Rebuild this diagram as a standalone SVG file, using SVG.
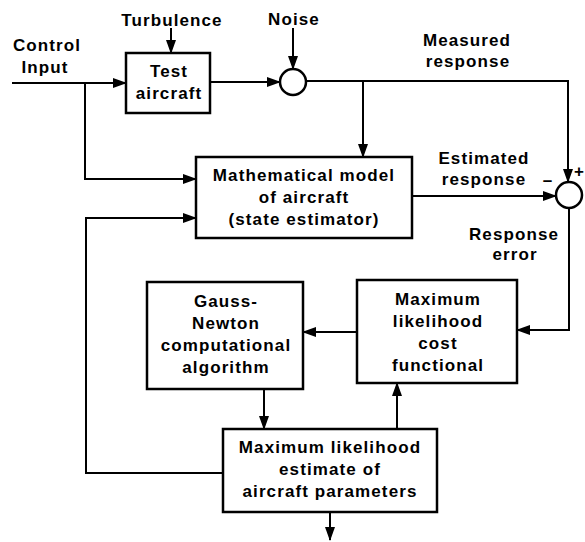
<svg xmlns="http://www.w3.org/2000/svg" width="585" height="542" viewBox="0 0 585 542">
<style>
.box{fill:#fff;stroke:#000;stroke-width:2.5}
.sum{fill:#fff;stroke:#000;stroke-width:2.5}
.ln{fill:none;stroke:#000;stroke-width:2}
text{font-family:"Liberation Sans",Arial,sans-serif;font-weight:bold;font-size:17px;letter-spacing:1.1px;text-anchor:middle;fill:#000}
</style>
<defs>
<marker id="ah" markerUnits="userSpaceOnUse" markerWidth="14" markerHeight="10" refX="13" refY="5" orient="auto">
<path d="M0,0 L14,5 L0,10 z" fill="#000"/>
</marker>
</defs>
<rect width="585" height="542" fill="#fff"/>
<g id="connectors">
<path class="ln" d="M12 83 H126" marker-end="url(#ah)"/>
<path class="ln" d="M85 83 V179 H196" marker-end="url(#ah)"/>
<path class="ln" d="M171 28 V53" marker-end="url(#ah)"/>
<path class="ln" d="M293 28 V69" marker-end="url(#ah)"/>
<path class="ln" d="M210 82 H280" marker-end="url(#ah)"/>
<path class="ln" d="M306 81 H568 V182" marker-end="url(#ah)"/>
<path class="ln" d="M363 81 V157" marker-end="url(#ah)"/>
<path class="ln" d="M412 196 H556" marker-end="url(#ah)"/>
<path class="ln" d="M569 208 V330 H517" marker-end="url(#ah)"/>
<path class="ln" d="M357 332 H303" marker-end="url(#ah)"/>
<path class="ln" d="M264 389 V429" marker-end="url(#ah)"/>
<path class="ln" d="M397 429 V383" marker-end="url(#ah)"/>
<path class="ln" d="M223 473 H86 V218 H196" marker-end="url(#ah)"/>
<path class="ln" d="M330 512 V540" marker-end="url(#ah)"/>
</g>
<g id="labels">
<text x="47" y="51">Control</text>
<text x="45" y="73">Input</text>
<text x="172" y="26">Turbulence</text>
<text x="294" y="25">Noise</text>
<text x="467" y="46">Measured</text>
<text x="468" y="67">response</text>
<text x="484" y="164">Estimated</text>
<text x="484" y="185">response</text>
<text x="548" y="186">–</text>
<text x="584" y="177" style="text-anchor:end;letter-spacing:0">+</text>
<text x="514" y="240">Response</text>
<text x="515" y="260">error</text>
</g>
<g id="test-aircraft">
<rect class="box" x="126" y="53" width="84" height="60"/>
<text x="169" y="77">Test</text>
<text x="169" y="99">aircraft</text>
</g>
<g id="noise-sum">
<circle class="sum" cx="293" cy="82" r="13"/>
</g>
<g id="error-sum">
<circle class="sum" cx="569" cy="195" r="13"/>
</g>
<g id="math-model">
<rect class="box" x="196" y="157" width="216" height="81"/>
<text x="304" y="181">Mathematical model</text>
<text x="304" y="203">of aircraft</text>
<text x="304" y="225">(state estimator)</text>
</g>
<g id="gauss-newton">
<rect class="box" x="147" y="282" width="156" height="107"/>
<text x="226" y="307">Gauss-</text>
<text x="226" y="329">Newton</text>
<text x="226" y="351">computational</text>
<text x="226" y="373">algorithm</text>
</g>
<g id="cost-functional">
<rect class="box" x="357" y="280" width="160" height="103"/>
<text x="438" y="305">Maximum</text>
<text x="438" y="327">likelihood</text>
<text x="438" y="349">cost</text>
<text x="438" y="371">functional</text>
</g>
<g id="mle">
<rect class="box" x="223" y="429" width="214" height="83"/>
<text x="330" y="453">Maximum likelihood</text>
<text x="330" y="475">estimate of</text>
<text x="330" y="497">aircraft parameters</text>
</g>
</svg>
